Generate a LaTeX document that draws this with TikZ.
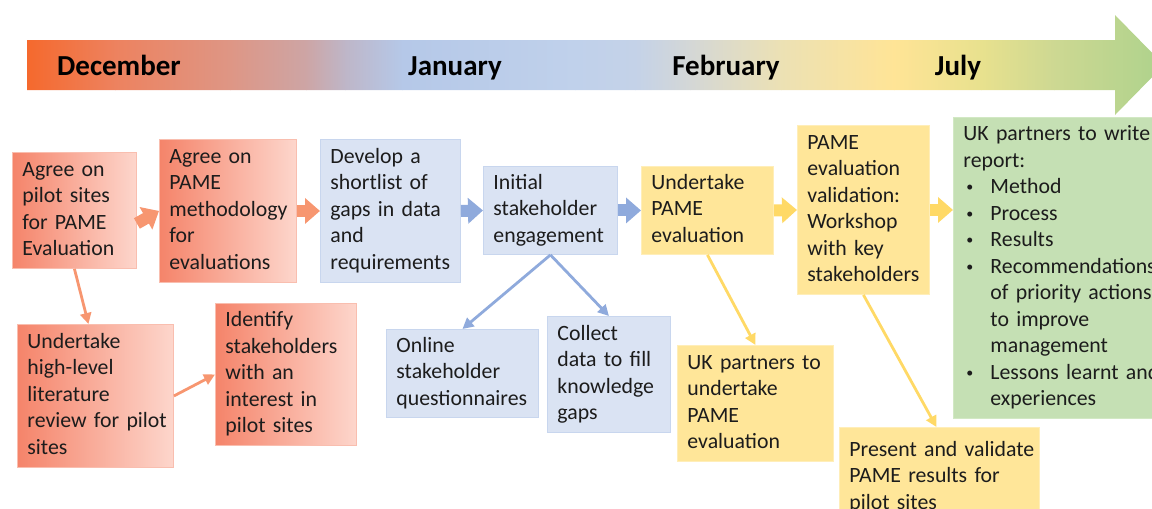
\documentclass[tikz,border=0pt]{standalone}
\usepackage{fontspec}
\setmainfont{Carlito}
\usetikzlibrary{arrows.meta}
\definecolor{txt}{RGB}{28,28,28}
\definecolor{oL}{RGB}{245,132,106}
\definecolor{oR}{RGB}{253,214,204}
\definecolor{oB}{RGB}{249,190,175}
\definecolor{bF}{RGB}{218,227,243}
\definecolor{bB}{RGB}{200,214,238}
\definecolor{yF}{RGB}{255,230,153}
\definecolor{yB}{RGB}{255,238,185}
\definecolor{gF}{RGB}{197,224,180}
\definecolor{gB}{RGB}{210,232,196}
\definecolor{oA}{RGB}{247,150,112}
\definecolor{bA}{RGB}{143,170,220}
\definecolor{yA}{RGB}{255,217,102}
\definecolor{t0}{RGB}{245,105,45}
\definecolor{t1}{RGB}{237,130,95}
\definecolor{t2}{RGB}{222,150,133}
\definecolor{t3}{RGB}{205,165,165}
\definecolor{t4}{RGB}{190,182,200}
\definecolor{t5}{RGB}{181,200,232}
\definecolor{t6}{RGB}{192,209,235}
\definecolor{t7}{RGB}{196,210,232}
\definecolor{t8}{RGB}{212,215,214}
\definecolor{t9}{RGB}{236,225,180}
\definecolor{t10}{RGB}{255,228,150}
\definecolor{t11}{RGB}{232,225,142}
\definecolor{t12}{RGB}{205,216,146}
\definecolor{t13}{RGB}{172,210,140}
\newcommand\lns[1]{\begin{tabular}{@{}l@{}}#1\end{tabular}}
\newcommand\bul{\makebox[27pt][l]{\hspace{3pt}\raisebox{2pt}{\fontsize{14}{14}\selectfont •}}}
\newcommand\mc[1]{\multicolumn{2}{@{}l@{}}{#1}}
\tikzset{
  box/.style={anchor=north west, inner xsep=10pt, inner ysep=4pt, align=left,
    line width=0.9pt, text=txt, font=\fontsize{21.8}{26.5}\selectfont},
  obox/.style={box, draw=oB, left color=oL, right color=oR},
  bbox/.style={box, draw=bB, fill=bF},
  ybox/.style={box, draw=yB, fill=yF},
  gbox/.style={box, draw=gB, fill=gF},
  month/.style={anchor=base, text=black, font=\fontsize{29}{34}\selectfont\bfseries},
  blk/.style={line width=12pt, -{Triangle[length=15pt,width=25pt]}},
  thin/.style={line width=2.8pt, -{Triangle[length=11pt,width=11pt]}},
}
\begin{document}
\begin{tikzpicture}[x=1pt,y=-1pt]
\useasboundingbox (0,0) rectangle (1152,509);
\clip (0,0) rectangle (1152,509);
% timeline arrow
\begin{scope}
\clip (27,40) -- (1115,40) -- (1115,15) -- (1164,65) -- (1115,115) -- (1115,90) -- (27,90) -- cycle;
\foreach \xa/\xb/\ca/\cb in {27/115/t0/t1, 115/230/t1/t2, 230/306/t2/t3, 306/345/t3/t4, 345/402/t4/t5, 402/575/t5/t6, 575/635/t6/t7, 635/690/t7/t8, 690/781/t8/t9, 781/894/t9/t10, 894/981/t10/t11, 981/1054/t11/t12, 1054/1170/t12/t13}
  \shade[left color=\ca, right color=\cb] (\xa,10) rectangle (\xb+0.7,120);
\end{scope}
\node[month] (dec) at (119,75) {December};
\node[month] (jan) at (455,75) {January};
\node[month] (feb) at (726,75) {February};
\node[month] (jul) at (958,75) {July};
% boxes
\node[obox, text width=104pt, minimum height=116pt] (b1) at (12,152) {\lns{Agree on\\pilot sites\\for PAME\\Evaluation}};
\node[obox, text width=117pt, minimum height=143pt] (b2) at (159,139) {\lns{Agree on\\PAME\\methodology\\for\\evaluations}};
\node[bbox, text width=120pt, minimum height=143pt] (b3) at (320,139) {\lns{Develop a\\shortlist of\\gaps in data\\and\\requirements}};
\node[obox, text width=136pt, minimum height=143pt] (b4) at (17,324) {\lns{Undertake\\high-level\\literature\\review for pilot\\sites}};
\node[obox, text width=121pt, minimum height=142pt] (b5) at (215,303) {\lns{Identify\\stakeholders\\with an\\interest in\\pilot sites}};
\node[bbox, text width=114pt, minimum height=88pt] (b6) at (483,166) {\lns{Initial\\stakeholder\\engagement}};
\node[ybox, text width=112pt, minimum height=88pt] (b7) at (641,166) {\lns{Undertake\\PAME\\evaluation}};
\node[bbox, text width=132pt, minimum height=88pt] (b8) at (386,329) {\lns{Online\\stakeholder\\questionnaires}};
\node[bbox, text width=103pt, minimum height=116pt] (b9) at (547,316) {\lns{Collect\\data to fill\\knowledge\\gaps}};
\node[ybox, text width=136pt, minimum height=116pt] (b10) at (677,345) {\lns{UK partners to\\undertake\\PAME\\evaluation}};
\node[ybox, text width=112pt, minimum height=169pt] (b11) at (797,125) {\lns{PAME\\evaluation\\validation:\\Workshop\\with key\\stakeholders}};
\node[gbox, text width=200pt, minimum height=301pt] (b12) at (953,117) {\begin{tabular}{@{}l@{}l@{}}\mc{UK partners to write}\\ \mc{report:}\\ \bul & Method\\ \bul & Process\\ \bul & Results\\ \bul & Recommendations\\ & of priority actions\\ & to improve\\ & management\\ \bul & Lessons learnt and\\ & experiences\end{tabular}};
\node[ybox, text width=180pt, minimum height=100pt] (b13) at (839,427) {\lns{Present and validate\\PAME results for\\pilot sites}};
% block arrows
\draw[blk, oA] ([yshift=-13pt]b1.east) -- (b2.west);
\draw[blk, oA] (b2.east) -- (b3.west);
\draw[blk, bA] (b3.east) -- (b6.west);
\draw[blk, bA] (b6.east) -- (b7.west);
\draw[blk, yA] (b7.east) -- (b11.west);
\draw[blk, yA] (b11.east) -- (b11.east -| b12.west);
% thin arrows
\draw[thin, oA] (b1.south) -- ([xshift=-7pt]b4.north);
\draw[thin, oA] (b4.east) -- (b5.west);
\draw[thin, bA] (b6.south) -- (b8.north);
\draw[thin, bA] (b6.south) -- (b9.north);
\draw[thin, yA] (b7.south) -- (b10.north);
\draw[thin, yA] (b11.south) -- ([xshift=-3pt]b13.north);
\end{tikzpicture}
\end{document}
